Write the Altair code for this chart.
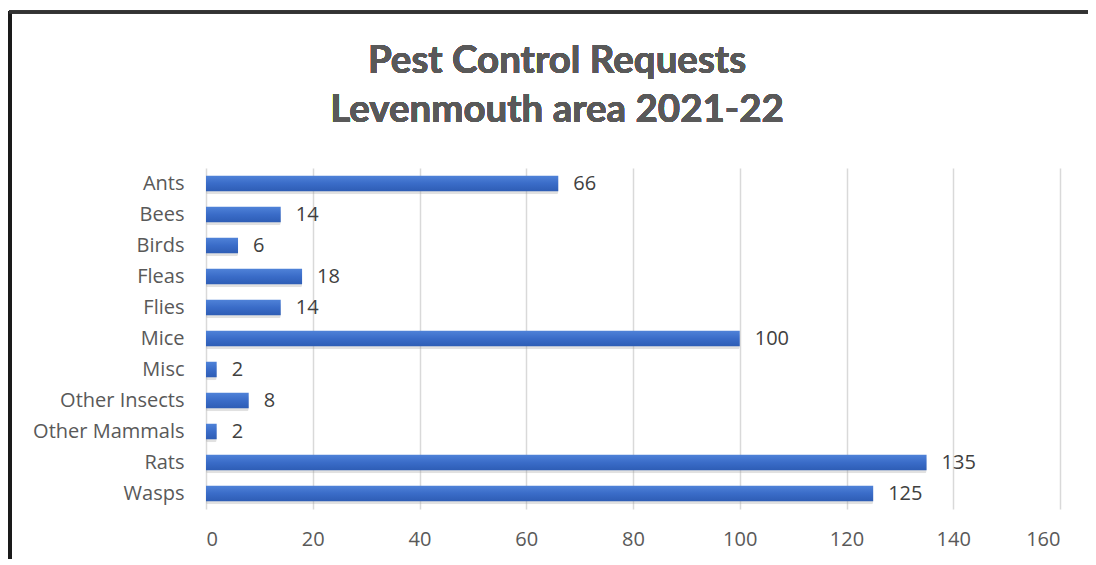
import altair as alt
import pandas as pd

categories = ["Ants", "Bees", "Birds", "Fleas", "Flies", "Mice", "Misc",
              "Other Insects", "Other Mammals", "Rats", "Wasps"]
values = [66, 14, 6, 18, 14, 100, 2, 8, 2, 135, 125]
x_ticks = [0, 20, 40, 60, 80, 100, 120, 140, 160]
title_lines = ["Pest Control Requests", "Levenmouth area 2021-22"]

df = pd.DataFrame({"pest": categories, "requests": values})

FONT = "Open Sans"
TFONT = "Lato"
GREY = "#595959"

y_enc = alt.Y("pest:N", sort=categories, title=None,
              scale=alt.Scale(paddingInner=0.5, paddingOuter=0.25),
              axis=alt.Axis(domain=False, ticks=False, labelFontSize=20,
                            labelColor=GREY, labelFont=FONT, labelPadding=22,
                            grid=False))
x_enc = alt.X("requests:Q", title=None,
              scale=alt.Scale(domain=[0, 160], nice=False),
              axis=alt.Axis(values=x_ticks, domain=False, ticks=False,
                            labelFontSize=20, labelColor=GREY, labelFont=FONT,
                            labelPadding=20, gridColor="#d9d9d9", gridWidth=1.5))

base = alt.Chart(df)

shadow = base.mark_bar(color="#9a9a9a", opacity=0.3, cornerRadius=2).encode(
    y=y_enc, x=x_enc, yOffset=alt.value(3))

bars = base.mark_bar(color=alt.Gradient(
    gradient="linear", x1=0, y1=0, x2=0, y2=1,
    stops=[alt.GradientStop(color="#4f82d8", offset=0),
           alt.GradientStop(color="#3a6cc8", offset=0.5),
           alt.GradientStop(color="#2e5db5", offset=1)])).encode(y=y_enc, x=x_enc)

labels = base.mark_text(align="left", baseline="middle", dx=15, fontSize=20,
                        font=FONT, color="#404040").encode(
    y=alt.Y("pest:N", sort=categories), x="requests:Q", text="requests:Q")

title1 = alt.Chart(df).mark_text(
    font=TFONT, fontSize=38.5, fontWeight="bold", color=GREY,
    align="center", baseline="alphabetic").encode(
    x=alt.value(351), y=alt.value(-95), text=alt.value(title_lines[0]))
title2 = alt.Chart(df).mark_text(
    font=TFONT, fontSize=38.5, fontWeight="bold", color=GREY,
    align="center", baseline="alphabetic").encode(
    x=alt.value(351), y=alt.value(-46), text=alt.value(title_lines[1]))

frame_left = alt.Chart(df).mark_rule(color="#1a1a1a", strokeWidth=3).encode(
    x=alt.value(-196), y=alt.value(-157), y2=alt.value(400))
frame_top = alt.Chart(df).mark_rule(color="#333333", strokeWidth=2.5).encode(
    x=alt.value(-197), x2=alt.value(900), y=alt.value(-156))

chart = alt.layer(shadow, bars, labels, title1, title2, frame_left, frame_top).properties(
    width=854, height=341,
    padding={"left": 198, "top": 160, "right": 28, "bottom": 50},
    autosize=alt.AutoSizeParams(type="none"),
).configure_view(stroke=None)

chart.save("out.html", embed_options={"renderer": "svg", "actions": False})
